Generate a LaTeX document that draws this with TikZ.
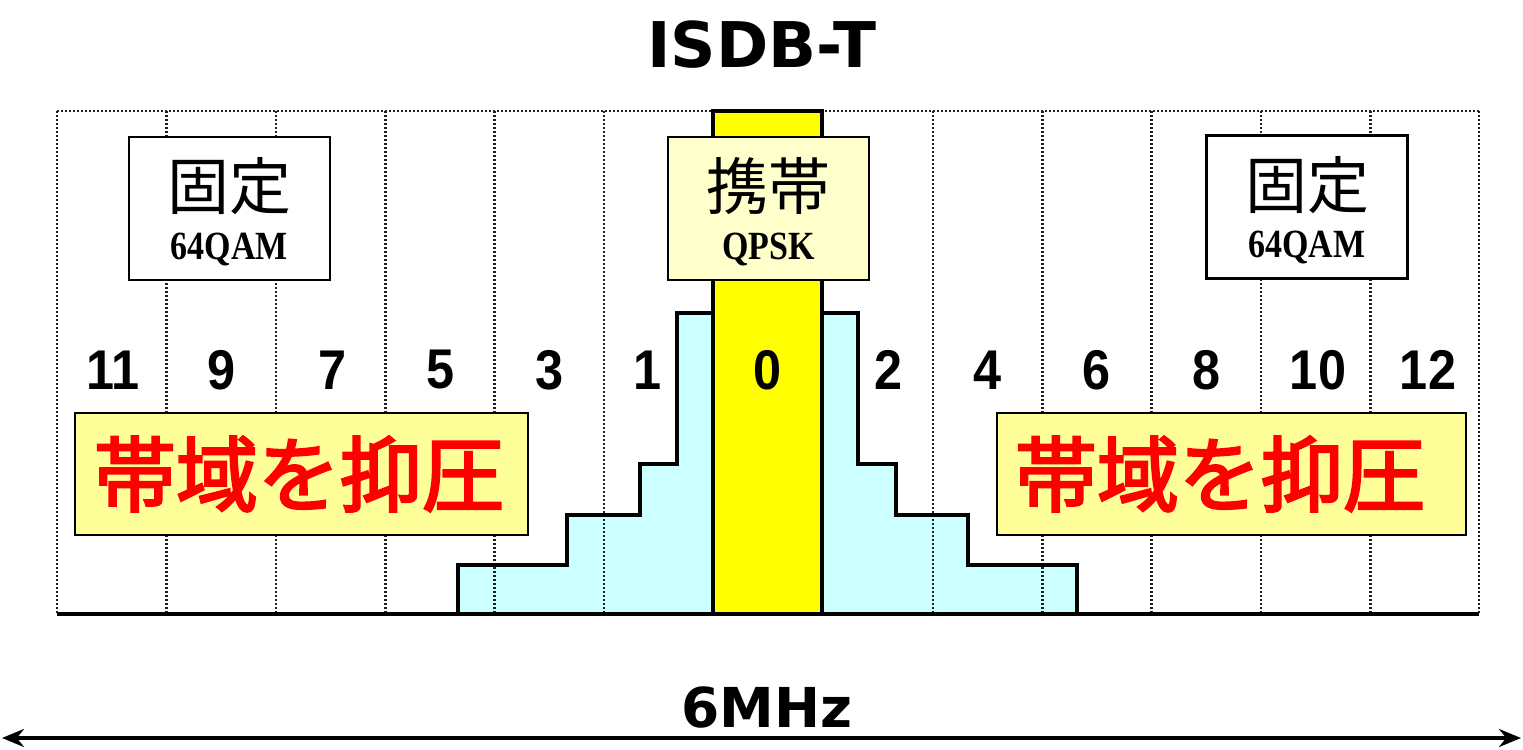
\documentclass[tikz,border=0pt]{standalone}
\usepackage{fontspec}
\setmainfont{Liberation Serif}
\newfontfamily\jp{Noto Sans CJK JP}
\newfontfamily\jpm[FakeBold=3]{Noto Sans CJK JP}
\newfontfamily\lsans{Liberation Sans}
\newfontfamily\dvs{DejaVu Sans}
\usetikzlibrary{arrows.meta}
\definecolor{bandyellow}{HTML}{FFFF00}
\definecolor{stepcyan}{HTML}{CCFFFF}
\definecolor{paleyellow}{HTML}{FFFFCC}
\definecolor{noteyellow}{HTML}{FFFF99}
\definecolor{notered}{HTML}{FF0000}
\definecolor{gridgray}{HTML}{202020}
\tikzset{
  gridline/.style={gridgray, line width=1.3pt, dash pattern=on 1pt off 1pt},
  outline/.style={black, line width=2.2pt, line join=miter},
  fixbox/.style={draw=black, line width=1.4pt, fill=white, minimum width=100.5pt, minimum height=71.5pt, inner sep=0pt},
  mobbox/.style={fixbox, fill=paleyellow},
  notebox/.style={draw=black, line width=0.8pt, fill=noteyellow, minimum height=61pt, inner sep=0pt},
  cjklabel/.style={inner sep=0pt, font=\jp\fontsize{31}{31}\selectfont},
  modlabel/.style={inner sep=0pt, font=\bfseries\fontsize{20}{20}\selectfont, xscale=0.85},
  notelabel/.style={inner sep=0pt, text=notered, font=\jpm\fontsize{41}{41}\selectfont},
  numlabel/.style={inner sep=0pt, font=\lsans\bfseries\fontsize{28}{28}\selectfont, xscale=0.9},
  titlelabel/.style={inner sep=0pt, font=\dvs\bfseries\fontsize{31.5}{31.5}\selectfont}
}
\begin{document}
\begin{tikzpicture}[x=0.5pt, y=-0.5pt]
\useasboundingbox (0,0) rectangle (1523,750);
% light cyan stepped spectrum
\fill[stepcyan] (458,614) -- (458,565) -- (567,565) -- (567,515) -- (640,515) -- (640,464) -- (677,464) -- (677,313)
  -- (858,313) -- (858,464) -- (896,464) -- (896,515) -- (968,515) -- (968,565) -- (1077,565) -- (1077,614) -- cycle;
% dotted grid
\draw[gridline] (57,111) -- (1479,111);
\foreach \x in {57,166.4,275.8,385.2,494.6,604,932.8,1042.2,1151.6,1261,1370.4,1479}
  \draw[gridline] (\x,111) -- (\x,614);
% step outline
\draw[outline] (458,614) -- (458,565) -- (567,565) -- (567,515) -- (640,515) -- (640,464) -- (677,464) -- (677,313) -- (713,313);
\draw[outline] (822,313) -- (858,313) -- (858,464) -- (896,464) -- (896,515) -- (968,515) -- (968,565) -- (1077,565) -- (1077,614);
% yellow centre segment
\draw[outline, fill=bandyellow] (713,614) rectangle (822,111);
% baseline
\draw[black, line width=2.2pt] (57,614) -- (1479,614);
% title
\node[titlelabel] (title) at (762,45) {ISDB-T};
% boxes
\node[fixbox] (lbox) at (229.5,208.5) {};
\node[cjklabel] (lfix) at (229.5,186) {固定};
\node[modlabel] (lmod) at (229.5,249) {64QAM};
\node[mobbox] (cbox) at (768.5,208.5) {};
\node[cjklabel] (cmob) at (768.5,186) {携帯};
\node[modlabel] (cmod) at (768.5,249) {QPSK};
\node[fixbox] (rbox) at (1307,207) {};
\node[cjklabel] (rfix) at (1307,185) {固定};
\node[modlabel] (rmod) at (1307,247) {64QAM};
% segment numbers
\node[numlabel] (n11) at (113,370) {11};
\node[numlabel] (n9) at (222,370) {9};
\node[numlabel] (n7) at (333,370) {7};
\node[numlabel] (n5) at (441,370) {5};
\node[numlabel] (n3) at (550,370) {3};
\node[numlabel] (n1) at (648,370) {1};
\node[numlabel] (n0) at (768,370) {0};
\node[numlabel] (n2) at (889,370) {2};
\node[numlabel] (n4) at (988,370) {4};
\node[numlabel] (n6) at (1097,370) {6};
\node[numlabel] (n8) at (1207,370) {8};
\node[numlabel] (n10) at (1318,370) {10};
\node[numlabel] (n12) at (1428,370) {12};
% suppression notes
\node[notebox, minimum width=226.5pt] (lnote) at (301.5,474) {};
\node[notelabel] (lnotet) at (299,474) {帯域を抑圧};
\node[notebox, minimum width=234.5pt] (rnote) at (1231.5,474) {};
\node[notelabel] (rnotet) at (1220,474) {帯域を抑圧};
% bandwidth arrow
\node[titlelabel, font=\dvs\bfseries\fontsize{27.5}{27.5}\selectfont] (bw) at (767,707) {6MHz};
\coordinate (aL) at (2,738);
\coordinate (aR) at (1521,738);
\draw[black, line width=1.6pt, {Stealth[length=11pt,width=9pt]}-{Stealth[length=11pt,width=9pt]}] (aL) -- (aR);
\end{tikzpicture}
\end{document}
